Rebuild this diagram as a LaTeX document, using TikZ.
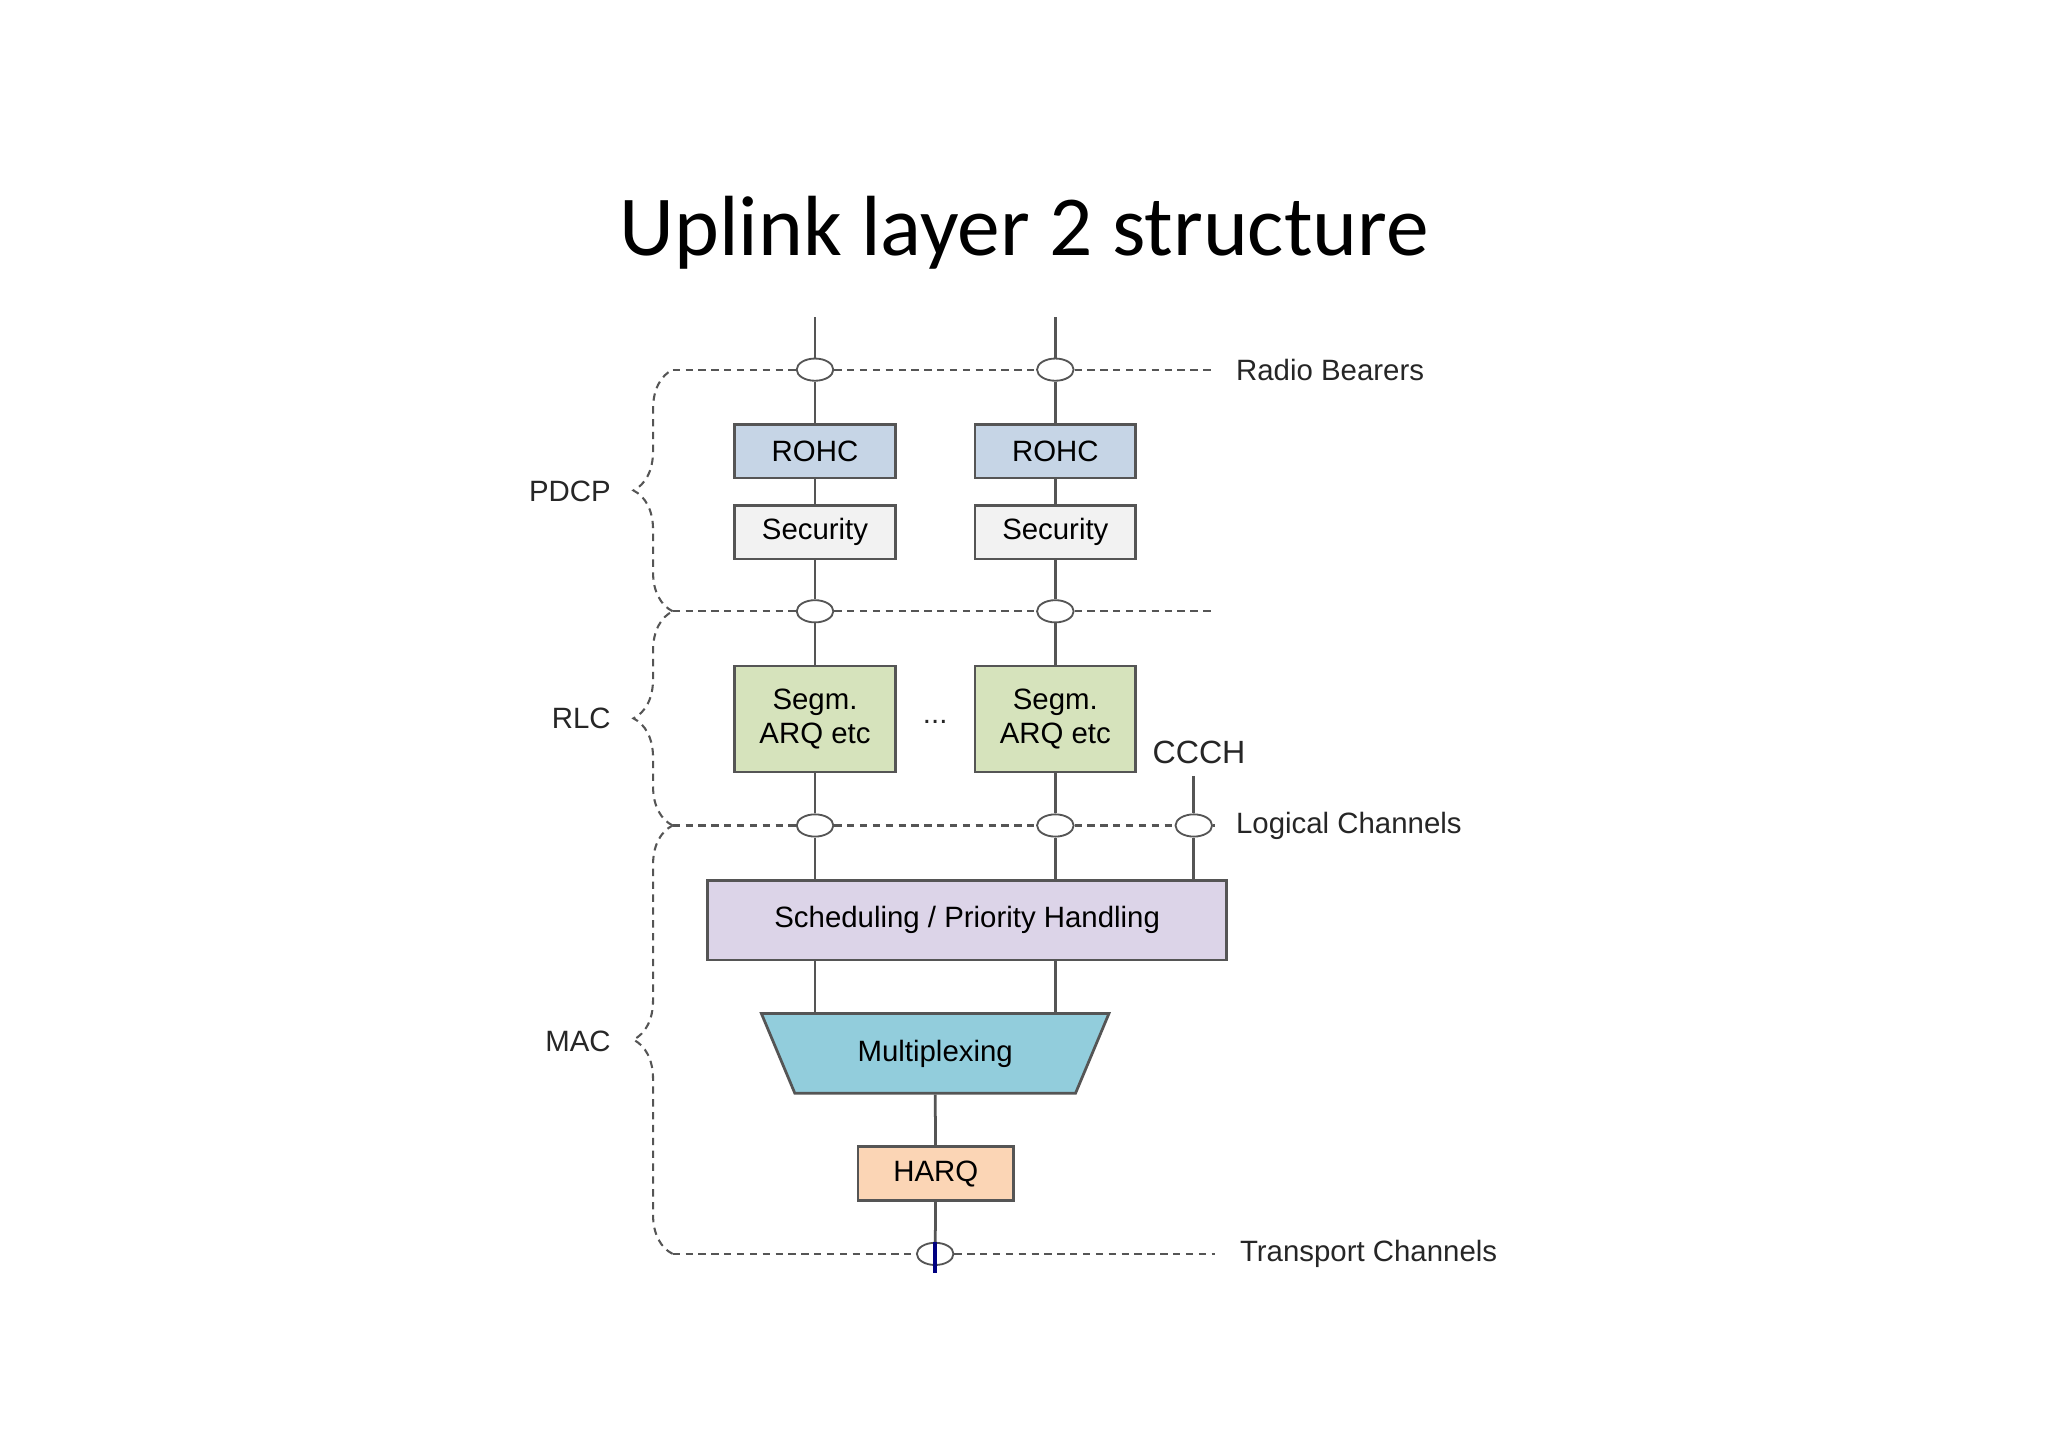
\documentclass[tikz,border=0pt]{standalone}
\usepackage{fontspec}
\setmainfont{Liberation Sans}
\newfontfamily\titlefont{Carlito}
\usetikzlibrary{shapes.geometric,decorations.pathreplacing}
\definecolor{bord}{HTML}{555555}
\begin{document}
\begin{tikzpicture}[x=0.01cm,y=-0.01cm,
  box/.style={draw=bord,line width=0.6pt,minimum height=0.41cm,inner sep=0pt,font=\fontsize{6.4}{7.6}\selectfont,align=center},
  ch/.style={draw=bord,ellipse,minimum width=0.28cm,minimum height=0.17cm,inner sep=0pt,fill=white},
  ln/.style={draw=bord,line width=0.6pt},
  dl/.style={draw=bord,dash pattern=on 1.6pt off 1.2pt,line width=0.45pt},
  lbl/.style={font=\fontsize{6.4}{7.6}\selectfont,text=black!85},
  br/.style={dl,decorate,decoration={brace,amplitude=0.3cm}}]
\useasboundingbox[fill=white] (0,0) rectangle (1568,1108);
\node[font=\titlefont\fontsize{18.6}{22}\selectfont] (title) at (784,178) {Uplink layer 2 structure};
% tops
\coordinate (t1) at (624,243); \coordinate (t2) at (808,243);
\coordinate (cc) at (914,594);
% channel markers
\node[ch] (r1) at (624,283) {}; \node[ch] (r2) at (808,283) {};
\node[ch] (p1) at (624,468) {}; \node[ch] (p2) at (808,468) {};
\node[ch] (l1) at (624,632) {}; \node[ch] (l2) at (808,632) {}; \node[ch] (l3) at (914,632) {};
\node[ch] (tc) at (716,960) {};
% boxes
\node[box,fill={rgb,255:red,198;green,213;blue,230},minimum width=1.23cm] (rohc1) at (624,345.5) {ROHC};
\node[box,fill={rgb,255:red,198;green,213;blue,230},minimum width=1.23cm] (rohc2) at (808,345.5) {ROHC};
\node[box,fill=gray!10,minimum width=1.23cm] (sec1) at (624,407.5) {Security};
\node[box,fill=gray!10,minimum width=1.23cm] (sec2) at (808,407.5) {Security};
\node[box,fill={rgb,255:red,214;green,227;blue,188},minimum width=1.23cm,minimum height=0.81cm] (seg1) at (624,550.5) {Segm.\\ARQ etc};
\node[box,fill={rgb,255:red,214;green,227;blue,188},minimum width=1.23cm,minimum height=0.81cm] (seg2) at (808,550.5) {Segm.\\ARQ etc};
\node[box,fill={rgb,255:red,220;green,212;blue,232},minimum width=3.97cm,minimum height=0.61cm] (sch) at (740.5,704.5) {Scheduling / Priority Handling};
\node[box,fill={rgb,255:red,146;green,205;blue,220},trapezium,shape border rotate=180,trapezium stretches=true,minimum width=2.67cm,minimum height=0.61cm,trapezium left angle=56,trapezium right angle=56] (mux) at (716,806.5) {Multiplexing};
\node[box,fill={rgb,255:red,251;green,213;blue,181},minimum width=1.19cm] (harq) at (716.5,898.5) {HARQ};
\node[lbl] (dots) at (716,553) {...};
\node[lbl,font=\fontsize{7}{8}\selectfont] (ccch) at (918,576) {CCCH};
% vertical connectors
\draw[ln] (t1) -- (r1); \draw[ln] (r1) -- (rohc1); \draw[ln] (rohc1) -- (sec1); \draw[ln] (sec1) -- (p1);
\draw[ln] (p1) -- (seg1); \draw[ln] (seg1) -- (l1); \draw[ln] (l1) -- (l1 |- sch.north);
\draw[ln] (t2) -- (r2); \draw[ln] (r2) -- (rohc2); \draw[ln] (rohc2) -- (sec2); \draw[ln] (sec2) -- (p2);
\draw[ln] (p2) -- (seg2); \draw[ln] (seg2) -- (l2); \draw[ln] (l2) -- (l2 |- sch.north);
\draw[ln] (cc) -- (l3); \draw[ln] (l3) -- (l3 |- sch.north);
\draw[ln] (sch.south -| l1) -- (l1 |- mux.north); \draw[ln] (sch.south -| l2) -- (l2 |- mux.north);
\draw[ln] (mux.south) -- (harq); \draw[ln] (harq) -- (tc);
\coordinate (tcb) at (716,975);
\draw[line width=1pt,blue!50!black] (tc.north) -- (tcb);
% dashed channel lines
\coordinate (e1) at (930,283); \coordinate (e2) at (930,468); \coordinate (e3) at (930,632); \coordinate (e4) at (930,960);
\coordinate (b1) at (515,283); \coordinate (b2) at (515,468); \coordinate (b3) at (515,632); \coordinate (b4) at (515,960);
\draw[dl] (b1) -- (r1) (r1) -- (r2) (r2) -- (e1);
\draw[dl] (b2) -- (p1) (p1) -- (p2) (p2) -- (e2);
\draw[dl] (b3) -- (l1) (l1) -- (l2) (l2) -- (l3) (l3) -- (e3);
\draw[dl] (b4) -- (tc) (tc) -- (e4);
% braces
\draw[br] (b2) -- (b1);
\draw[br] (b3) -- (b2);
\draw[br] (b4) -- (b3);
\node[lbl,anchor=east] (pdcp) at (480,376) {PDCP};
\node[lbl,anchor=east] (rlc) at (480,550) {RLC};
\node[lbl,anchor=east] (mac) at (480,797) {MAC};
\node[lbl,anchor=west] (rb) at (934,283) {Radio Bearers};
\node[lbl,anchor=west] (lc) at (934,632) {Logical Channels};
\node[lbl,anchor=west] (tch) at (937,960) {Transport Channels};
\end{tikzpicture}
\end{document}
